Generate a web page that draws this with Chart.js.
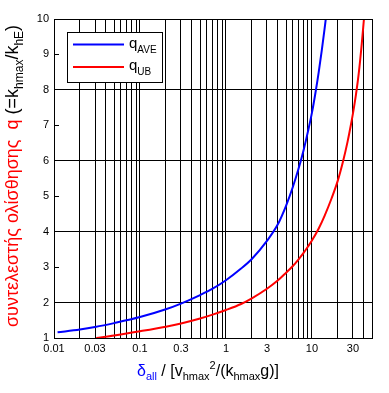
<!DOCTYPE html>
<html>
<head>
<meta charset="utf-8">
<script src="https://cdn.jsdelivr.net/npm/chart.js@4"></script>
<style>
  body { margin: 0; background: #fff; }
  #wrap { width: 389px; height: 393px; }
</style>
</head>
<body>
<div id="wrap"><canvas id="qChart"></canvas></div>
<script>
// values
const aveDelta = [0.011, 0.02, 0.03, 0.05, 0.1, 0.2, 0.3, 0.5, 0.7, 1, 1.5, 2, 3, 4, 5, 6, 7, 8, 9, 10, 11, 12, 13, 14, 14.5];
const aveQ     = [1.16, 1.24, 1.31, 1.42, 1.59, 1.81, 1.97, 2.21, 2.39, 2.63, 2.96, 3.23, 3.74, 4.2, 4.73, 5.26, 5.78, 6.3, 6.83, 7.35, 7.92, 8.5, 9.1, 9.7, 10.0];
const ubDelta  = [0.031, 0.05, 0.1, 0.2, 0.3, 0.5, 0.7, 1, 1.5, 2, 3, 4, 5, 6, 7, 8, 9, 10, 12, 14, 17, 20, 23, 26, 28.5, 30, 32.5, 35, 38, 40.3];
const ubQ      = [1.0, 1.07, 1.19, 1.32, 1.41, 1.55, 1.66, 1.79, 1.96, 2.12, 2.39, 2.62, 2.84, 3.03, 3.22, 3.4, 3.58, 3.75, 4.09, 4.44, 4.95, 5.44, 5.98, 6.54, 7.03, 7.33, 7.86, 8.45, 9.3, 10.0];

const xGridValues = [0.01, 0.02, 0.03, 0.04, 0.05, 0.06, 0.07, 0.08, 0.09,
                     0.1, 0.2, 0.3, 0.4, 0.5, 0.6, 0.7, 0.8, 0.9,
                     1, 2, 3, 4, 5, 6, 7, 8, 9,
                     10, 20, 30, 40];
const xTickLabels = [0.01, 0.03, 0.1, 0.3, 1, 3, 10, 30];
const yTickValues = [1, 2, 3, 4, 5, 6, 7, 8, 9, 10];
const yGridValues = [2, 4, 6, 8];
const yMinorTicks = [3, 5, 7, 9];

const FONT = '"Liberation Sans", Arial, sans-serif';

function drawRuns(ctx, runs, x, y) {
    let cx = x;
    runs.forEach(r => {
        ctx.font = r.size + 'px ' + FONT;
        ctx.fillStyle = r.color || '#000';
        ctx.fillText(r.text, cx, y + (r.dy || 0));
        cx += ctx.measureText(r.text).width;
    });
    return cx - x;
}

function runsWidth(ctx, runs) {
    let w = 0;
    runs.forEach(r => {
        ctx.font = r.size + 'px ' + FONT;
        w += ctx.measureText(r.text).width;
    });
    return w;
}

const framePlugin = {
    id: 'frame',
    afterDatasetsDraw(chart) {
        const { ctx, chartArea: a, scales } = chart;
        ctx.save();
        ctx.strokeStyle = '#000';
        ctx.lineWidth = 1;
        ctx.strokeRect(a.left + 0.5, a.top + 0.5, a.right - a.left, a.bottom - a.top);

        // short inward ticks on odd values
        yMinorTicks.forEach(v => {
            const py = Math.round(scales.y.getPixelForValue(v)) + 0.5;
            ctx.beginPath();
            ctx.moveTo(a.left, py);
            ctx.lineTo(a.left + 5, py);
            ctx.stroke();
        });

        // legend
        ctx.fillStyle = '#fff';
        ctx.fillRect(67.5, 32.5, 95, 50);
        ctx.strokeRect(67.5, 32.5, 95, 50);
        const items = [
            { color: '#0000ff', sub: 'AVE', y: 44.5 },
            { color: '#ff0000', sub: 'UB', y: 67 }
        ];
        ctx.textBaseline = 'alphabetic';
        items.forEach(it => {
            ctx.strokeStyle = it.color;
            ctx.lineWidth = 2;
            ctx.beginPath();
            ctx.moveTo(73, it.y);
            ctx.lineTo(124, it.y);
            ctx.stroke();
            drawRuns(ctx, [
                { text: 'q', size: 15 },
                { text: it.sub, size: 10, dy: 5 }
            ], 129, it.y + 3);
        });
        ctx.restore();
    },
    afterDraw(chart) {
        const { ctx } = chart;
        ctx.save();
        ctx.textBaseline = 'alphabetic';

        // x axis title
        const xRuns = [
            { text: '\u03b4', size: 16, color: '#0000ff' },
            { text: 'all', size: 11, color: '#0000ff', dy: 4 },
            { text: ' / [v', size: 16 },
            { text: 'hmax', size: 11, dy: 4 },
            { text: '2', size: 11, dy: -7 },
            { text: '/(k', size: 16 },
            { text: 'hmax', size: 11, dy: 4 },
            { text: 'g)]', size: 16 }
        ];
        const xw = runsWidth(ctx, xRuns);
        drawRuns(ctx, xRuns, 208 - xw / 2, 376);

        // y axis title, rotated
        const yRuns = [
            { text: '\u03c3\u03c5\u03bd\u03c4\u03b5\u03bb\u03b5\u03c3\u03c4\u03ae\u03c2 \u03bf\u03bb\u03af\u03c3\u03b8\u03b7\u03c3\u03b7\u03c2  q', size: 18, color: '#ff0000' },
            { text: ' (=k', size: 18 },
            { text: 'hmax', size: 12, dy: 5 },
            { text: '/k', size: 18 },
            { text: 'hE', size: 12, dy: 5 },
            { text: ')', size: 18 }
        ];
        const yw = runsWidth(ctx, yRuns);
        ctx.translate(18, 176 + yw / 2);
        ctx.rotate(-Math.PI / 2);
        drawRuns(ctx, yRuns, 0, 0);
        ctx.restore();
    }
};

new Chart(document.getElementById('qChart').getContext('2d'), {
    type: 'line',
    data: {
        datasets: [{
            label: 'qAVE',
            data: aveDelta.map((d, i) => ({ x: d, y: aveQ[i] })),
            borderColor: '#0000ff',
            borderWidth: 2,
            pointRadius: 0,
            fill: false,
            cubicInterpolationMode: 'monotone'
        }, {
            label: 'qUB',
            data: ubDelta.map((d, i) => ({ x: d, y: ubQ[i] })),
            borderColor: '#ff0000',
            borderWidth: 2,
            pointRadius: 0,
            fill: false,
            cubicInterpolationMode: 'monotone'
        }]
    },
    options: {
        responsive: true,
        maintainAspectRatio: false,
        animation: false,
        layout: { padding: { top: 19, right: 17, left: 0, bottom: 0 } },
        plugins: {
            legend: { display: false },
            tooltip: { enabled: false }
        },
        scales: {
            x: {
                type: 'logarithmic',
                min: 0.01,
                max: 50,
                afterBuildTicks: scale => {
                    scale.ticks = xGridValues.map(v => ({ value: v }));
                },
                afterFit: scale => { scale.height = 55; },
                border: { display: false },
                grid: { color: '#000', lineWidth: 1, drawTicks: false },
                ticks: {
                    autoSkip: false,
                    maxRotation: 0,
                    padding: 4,
                    color: '#000',
                    font: { family: FONT, size: 11 },
                    callback: value => xTickLabels.includes(value) ? String(value) : ''
                }
            },
            y: {
                type: 'linear',
                min: 1,
                max: 10,
                afterBuildTicks: scale => {
                    scale.ticks = yTickValues.map(v => ({ value: v }));
                },
                afterFit: scale => { scale.width = 54; },
                border: { display: false },
                grid: {
                    drawTicks: false,
                    lineWidth: 1,
                    color: ctx => yGridValues.includes(ctx.tick.value) ? '#000' : 'rgba(0,0,0,0)'
                },
                ticks: {
                    padding: 5,
                    color: '#000',
                    font: { family: FONT, size: 11 },
                    callback: value => String(value)
                }
            }
        }
    },
    plugins: [framePlugin]
});
</script>
</body>
</html>
